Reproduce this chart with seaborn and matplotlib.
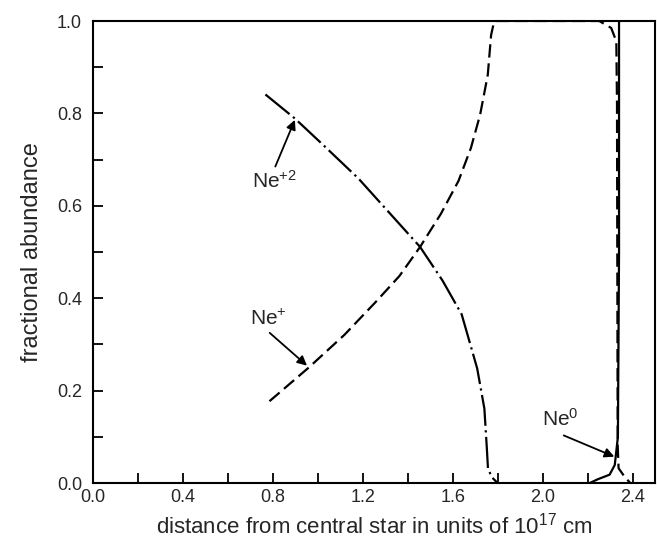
import matplotlib
matplotlib.use("Agg")
import matplotlib.pyplot as plt
import seaborn as sns
from matplotlib.ticker import MultipleLocator

# --- data ---
ne2_x = [0.767, 0.898, 1.021, 1.181, 1.318, 1.455, 1.555, 1.640, 1.709, 1.741, 1.752, 1.757, 1.775, 1.80]
ne2_y = [0.841, 0.789, 0.733, 0.659, 0.585, 0.511, 0.438, 0.365, 0.248, 0.161, 0.075, 0.031, 0.012, 0.0]

ne1_x = [0.785, 0.960, 1.119, 1.256, 1.363, 1.455, 1.548, 1.626, 1.681, 1.722, 1.756, 1.771, 1.785,
         2.252, 2.305, 2.328, 2.331, 2.334, 2.338, 2.364, 2.39]
ne1_y = [0.177, 0.250, 0.321, 0.391, 0.448, 0.511, 0.583, 0.654, 0.725, 0.797, 0.883, 0.970, 1.0,
         1.0, 0.985, 0.956, 0.818, 0.082, 0.032, 0.014, 0.0]

ne0_x = [2.21, 2.245, 2.298, 2.321, 2.335, 2.34, 2.34]
ne0_y = [0.0, 0.008, 0.018, 0.039, 0.10, 0.50, 1.0]

x_ticks = [0.0, 0.4, 0.8, 1.2, 1.6, 2.0, 2.4]
y_ticks = [0.0, 0.2, 0.4, 0.6, 0.8, 1.0]

sns.set_style("ticks")
plt.rcParams['font.family'] = ['Liberation Sans', 'DejaVu Sans']
plt.rcParams['mathtext.fontset'] = 'custom'
plt.rcParams['mathtext.rm'] = 'Liberation Sans'
plt.rcParams['mathtext.it'] = 'Liberation Sans'

fig = plt.figure(figsize=(6.57, 5.44), dpi=100)
ax = fig.add_axes([93 / 657, 1 - 483 / 544, 562 / 657, 462 / 544])

LW = 1.6
sns.lineplot(x=ne2_x, y=ne2_y, sort=False, estimator=None, color='black', lw=LW, ax=ax)
ax.lines[-1].set_dashes([14, 2, 1, 2])
sns.lineplot(x=ne1_x, y=ne1_y, sort=False, estimator=None, color='black', lw=LW, ax=ax)
ax.lines[-1].set_dashes([6, 2.6])
sns.lineplot(x=ne0_x, y=ne0_y, sort=False, estimator=None, color='black', lw=LW, ax=ax)

ax.set_xlim(0, 2.5)
ax.set_ylim(0, 1.0)
ax.set_xticks(x_ticks)
ax.set_xticklabels([f"{v:.1f}" for v in x_ticks])
ax.set_yticks(y_ticks)
ax.set_yticklabels([f"{v:.1f}" for v in y_ticks])
ax.xaxis.set_minor_locator(MultipleLocator(0.2))
ax.yaxis.set_minor_locator(MultipleLocator(0.1))
ax.tick_params(which='both', direction='in', length=7, width=1.3, labelsize=13, color='black')
ax.tick_params(axis='x', pad=4)
ax.tick_params(axis='y', pad=8)
for s in ax.spines.values():
    s.set_linewidth(1.5)
    s.set_color('black')

ax.set_xlabel("distance from central star in units of 10$^{17}$ cm", fontsize=16, labelpad=5)
ax.set_ylabel("fractional abundance", fontsize=17, labelpad=10)

arrow = dict(arrowstyle='-|>', color='black', lw=1.3, mutation_scale=14, shrinkA=0, shrinkB=0)
ax.text(0.808, 0.653, "Ne$^{+2}$", fontsize=15, ha='center', va='center')
ax.annotate("", xy=(0.898, 0.786), xytext=(0.811, 0.685), arrowprops=arrow)
ax.text(0.779, 0.356, "Ne$^{+}$", fontsize=15, ha='center', va='center')
ax.annotate("", xy=(0.952, 0.254), xytext=(0.786, 0.325), arrowprops=arrow)
ax.text(2.077, 0.139, "Ne$^{0}$", fontsize=15, ha='center', va='center')
ax.annotate("", xy=(2.319, 0.057), xytext=(2.094, 0.103), arrowprops=arrow)

fig.savefig("out.png", dpi=100)
